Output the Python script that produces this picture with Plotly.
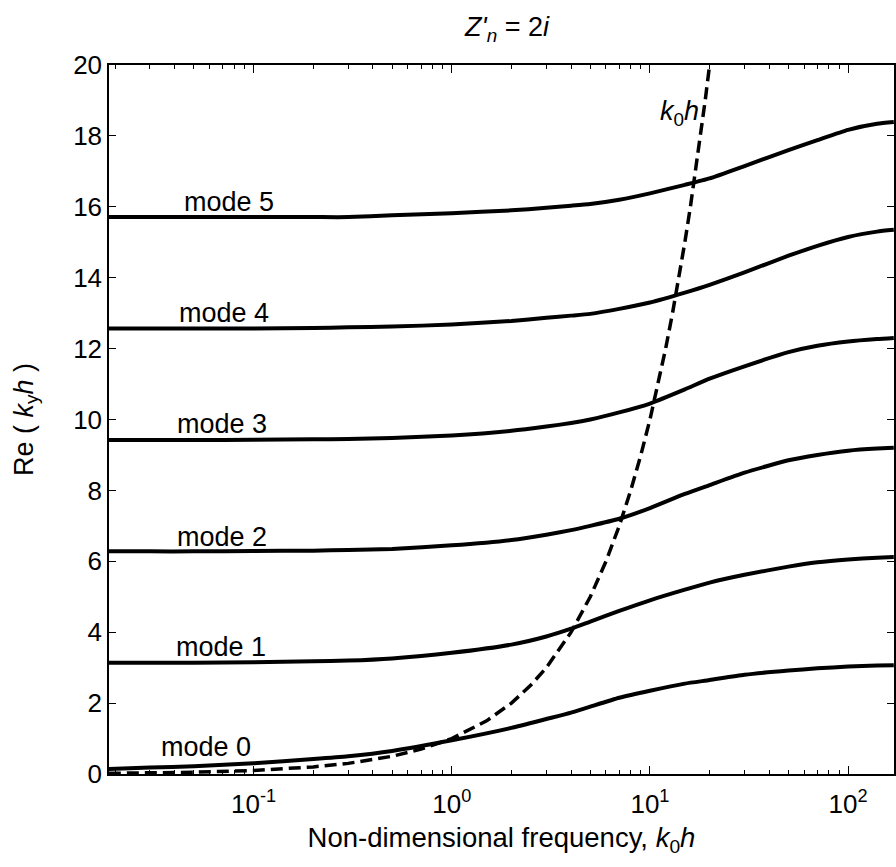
import plotly.graph_objects as go

# Non-dimensional frequency k0h sample points
freq = [0.0186, 0.03, 0.05, 0.1, 0.2, 0.3, 0.5, 1, 2, 3, 4, 5, 7, 10, 15, 20, 30, 50, 70, 100, 140, 170]

mode0 = [0.14, 0.18, 0.22, 0.30, 0.42, 0.50, 0.65, 0.95, 1.30, 1.55, 1.73, 1.90, 2.15, 2.35, 2.55, 2.65, 2.80, 2.92, 2.98, 3.03, 3.06, 3.07]
mode1 = [3.14, 3.14, 3.14, 3.15, 3.18, 3.20, 3.26, 3.42, 3.65, 3.88, 4.10, 4.30, 4.60, 4.90, 5.20, 5.40, 5.62, 5.85, 5.97, 6.05, 6.10, 6.12]
mode2 = [6.28, 6.28, 6.28, 6.29, 6.30, 6.32, 6.35, 6.45, 6.60, 6.75, 6.88, 7.00, 7.20, 7.50, 7.90, 8.15, 8.50, 8.85, 9.00, 9.12, 9.18, 9.20]
mode3 = [9.42, 9.42, 9.42, 9.43, 9.44, 9.45, 9.48, 9.55, 9.68, 9.80, 9.90, 10.00, 10.20, 10.45, 10.85, 11.15, 11.50, 11.90, 12.08, 12.20, 12.27, 12.30]
mode4 = [12.57, 12.57, 12.57, 12.57, 12.58, 12.60, 12.62, 12.68, 12.78, 12.87, 12.93, 12.98, 13.12, 13.30, 13.58, 13.80, 14.15, 14.62, 14.90, 15.15, 15.30, 15.35]
mode5 = [15.71, 15.71, 15.71, 15.71, 15.71, 15.71, 15.76, 15.82, 15.90, 15.97, 16.03, 16.08, 16.20, 16.38, 16.62, 16.80, 17.15, 17.60, 17.88, 18.17, 18.34, 18.39]
modes = [mode0, mode1, mode2, mode3, mode4, mode5]
mode_names = ["mode 0", "mode 1", "mode 2", "mode 3", "mode 4", "mode 5"]

# k0h reference line (dashed)
k0h_x = [0.0186, 0.03, 0.05, 0.1, 0.2, 0.3, 0.5, 0.7, 1, 1.5, 2, 2.5, 3, 4, 5, 6, 7, 8, 9, 10, 11, 12, 13, 14, 15, 16, 17, 18, 19, 20]
k0h_y = [0.0186, 0.03, 0.05, 0.1, 0.2, 0.3, 0.5, 0.7, 1, 1.5, 2, 2.5, 3, 4, 5, 6, 7, 8, 9, 10, 11, 12, 13, 14, 15, 16, 17, 18, 19, 20]

# label positions (log10 x, y)
label_x = [-1.242, -1.166, -1.161, -1.159, -1.148, -1.126]
label_y = [0.76, 3.58, 6.69, 9.87, 13.0, 16.14]

xtick_vals = [0.1, 1, 10, 100]
xtick_text = ["10<sup>-1</sup>", "10<sup>0</sup>", "10<sup>1</sup>", "10<sup>2</sup>"]
minor_vals = [m * d for d in [0.01, 0.1, 1, 10, 100] for m in range(2, 10)]

FONT = "Liberation Sans, Arial, sans-serif"

fig = go.Figure()
for ys in modes:
    fig.add_trace(go.Scatter(x=freq, y=ys, mode="lines",
                             line=dict(color="black", width=4, shape="spline", smoothing=0.5),
                             showlegend=False))
fig.add_trace(go.Scatter(x=k0h_x, y=k0h_y, mode="lines",
                         line=dict(color="black", width=3.5, dash="12px,6px"),
                         showlegend=False))

for name, lx, ly in zip(mode_names, label_x, label_y):
    fig.add_annotation(x=lx, y=ly, text=name, showarrow=False,
                       font=dict(family=FONT, size=27, color="black"),
                       xanchor="center", yanchor="middle")

fig.add_annotation(x=1.149, y=18.65, text="<i>k</i><sub>0</sub><i>h</i>", showarrow=False,
                   font=dict(family=FONT, size=27, color="black"),
                   xanchor="center", yanchor="middle")

fig.update_layout(
    width=896, height=867,
    margin=dict(l=109, r=0, t=65, b=93),
    paper_bgcolor="white", plot_bgcolor="white",
    font=dict(family=FONT, size=26, color="black"),
    title=dict(text="<i>Z'</i><sub><i>n</i></sub> = 2<i>i</i>",
               x=0.507, xanchor="center", y=1 - 27 / 867, yanchor="middle",
               xref="paper", yref="container",
               font=dict(family=FONT, size=27, color="black")),
    xaxis=dict(type="log", range=[-1.7297, 2.2315],
               tickvals=xtick_vals, ticktext=xtick_text,
               ticks="inside", ticklen=8, tickwidth=1, tickcolor="black",
               ticklabelstandoff=6,
               minor=dict(tickvals=minor_vals, ticks="inside", ticklen=4,
                          tickwidth=1, tickcolor="black", showgrid=False),
               showline=True, linecolor="black", linewidth=1.5, mirror="allticks",
               showgrid=False, zeroline=False,
               tickfont=dict(family=FONT, size=26),
               title=dict(text="Non-dimensional frequency, <i>k</i><sub>0</sub><i>h</i>",
                          font=dict(family=FONT, size=27.5), standoff=10)),
    yaxis=dict(range=[0, 20], tick0=0, dtick=2,
               ticks="inside", ticklen=7, tickwidth=1, tickcolor="black",
               showline=True, linecolor="black", linewidth=1.5, mirror="allticks",
               showgrid=False, zeroline=False,
               tickfont=dict(family=FONT, size=26),
               title=dict(text="Re ( <i>k</i><sub>y</sub><i>h</i> )",
                          font=dict(family=FONT, size=27), standoff=32)),
)

fig.write_html("out.html")
